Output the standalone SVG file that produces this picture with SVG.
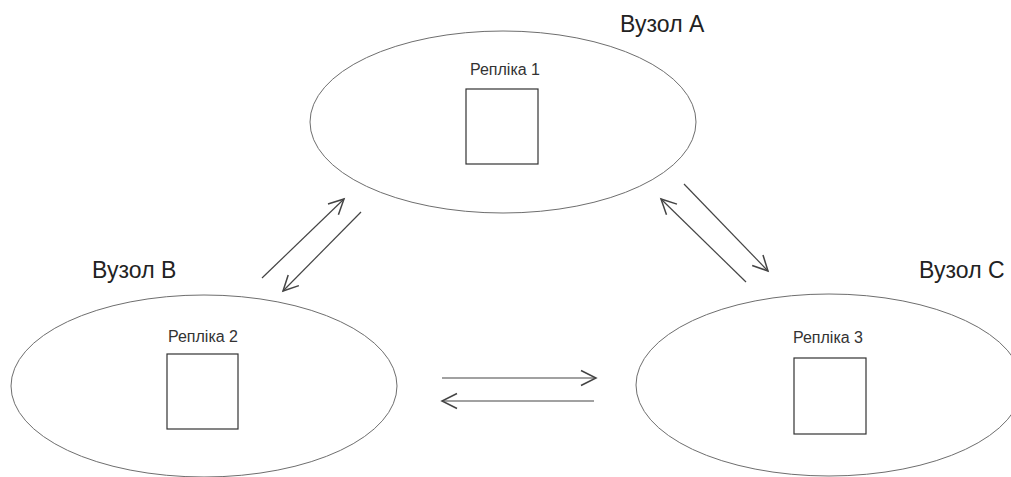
<svg xmlns="http://www.w3.org/2000/svg" width="1011" height="477" viewBox="0 0 1011 477">
  <style>
    .node { fill: #ffffff; stroke: #6e6e6e; stroke-width: 1; }
    .replica { fill: #ffffff; stroke: #333333; stroke-width: 1.2; }
    .title { font-family: "Liberation Sans", Arial, sans-serif; font-size: 23px; fill: #222222; }
    .label { font-family: "Liberation Sans", Arial, sans-serif; font-size: 16px; fill: #333333; text-anchor: middle; }
    .link { stroke: #444444; stroke-width: 1.2; fill: none; marker-end: url(#open-arrow); }
  </style>
  <defs>
    <marker id="open-arrow" markerUnits="userSpaceOnUse" markerWidth="20" markerHeight="20" viewBox="-14 -8 16 16" refX="0" refY="0" orient="auto">
      <path d="M -12 -6 L 0 0 L -12 6" fill="none" stroke="#444444" stroke-width="1.2"/>
    </marker>
  </defs>
  <rect width="1011" height="477" fill="#ffffff"/>

  <!-- Node A -->
  <g id="node-a">
    <ellipse class="node" cx="503" cy="122" rx="193" ry="91"/>
    <text class="title" x="620" y="32">Вузол A</text>
    <text class="label" x="505" y="75">Репліка 1</text>
    <rect class="replica" x="466" y="89" width="72" height="75"/>
  </g>

  <!-- Node B -->
  <g id="node-b">
    <ellipse class="node" cx="204" cy="386" rx="193" ry="91"/>
    <text class="title" x="92" y="278">Вузол B</text>
    <text class="label" x="203" y="342">Репліка 2</text>
    <rect class="replica" x="167" y="354" width="71" height="75"/>
  </g>

  <!-- Node C -->
  <g id="node-c">
    <ellipse class="node" cx="829" cy="385" rx="193" ry="91"/>
    <text class="title" x="919" y="278">Вузол C</text>
    <text class="label" x="828" y="343">Репліка 3</text>
    <rect class="replica" x="794" y="358" width="72" height="76"/>
  </g>

  <!-- Replication links -->
  <g id="connectors">
    <line class="link" x1="262" y1="278" x2="344" y2="199"/>
    <line class="link" x1="361" y1="212" x2="283" y2="291"/>
    <line class="link" x1="684" y1="184" x2="768" y2="271"/>
    <line class="link" x1="746" y1="282" x2="661" y2="199"/>
    <line class="link" x1="442" y1="378" x2="596" y2="378"/>
    <line class="link" x1="594" y1="401" x2="442" y2="401"/>
  </g>
</svg>
